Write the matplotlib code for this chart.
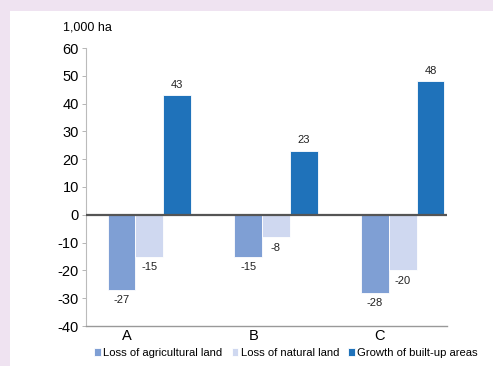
import matplotlib.pyplot as plt
import numpy as np

plt.rcParams['font.family'] = ['Liberation Sans', 'DejaVu Sans']

regioes = ['A', 'B', 'C']
series = ['Loss of agricultural land', 'Loss of natural land', 'Growth of built-up areas']
agricola = [-27, -15, -28]
natural = [-15, -8, -20]
construida = [43, 23, 48]
cores = ['#7F9FD4', '#CFD8F0', '#1F72BA']

fig = plt.figure(figsize=(4.93, 3.66), dpi=100, facecolor='#EFE3F1')
# painel branco atras de tudo
fig.patches.append(plt.Rectangle((10 / 493, 0), 1, 1 - 11 / 366, transform=fig.transFigure,
                                 facecolor='white', edgecolor='none', zorder=-10))
ax = fig.add_axes([86 / 493, 1 - 326 / 366, 361 / 493, 278 / 366])
ax.set_facecolor('white')

x = np.arange(len(regioes))
w = 0.22
for k, (vals, cor, nome) in enumerate(zip([agricola, natural, construida], cores, series)):
    pos = x + (k - 1) * w
    ax.bar(pos, vals, w, color=cor, edgecolor='white', linewidth=0.6, label=nome, zorder=2)
    for p, v in zip(pos, vals):
        if v >= 0:
            ax.annotate(str(v), (p, v), xytext=(0, 4), textcoords='offset points',
                        ha='center', va='bottom', fontsize=8, color='#222222')
        else:
            ax.annotate(str(v), (p, v), xytext=(0, -4), textcoords='offset points',
                        ha='center', va='top', fontsize=8, color='#222222')

ax.axhline(0, color='#555555', linewidth=1.6, zorder=3)
ax.set_xlim(-0.5, 2.35)
ax.set_ylim(-40, 60)
ax.set_yticks(range(-40, 61, 10))
ax.set_yticklabels([str(t) for t in range(-40, 61, 10)], fontsize=10.5)
ax.set_xticks(x - 0.18)
ax.set_xticklabels(regioes, fontsize=10.5)
ax.tick_params(axis='x', length=0, pad=2)
ax.tick_params(axis='y', length=3, width=0.6, color='#AAAAAA', pad=2)

for lado in ['top', 'right']:
    ax.spines[lado].set_visible(False)
ax.spines['left'].set_color('#BBBBBB')
ax.spines['bottom'].set_color('#999999')
ax.spines['bottom'].set_linewidth(1.0)

fig.text(63 / 493, 1 - 27 / 366, '1,000 ha', fontsize=9, va='center', ha='left')

fig.legend(loc='center', bbox_to_anchor=(0.58, 1 - 353 / 366), ncol=3, frameon=False,
           fontsize=8.1, handlelength=0.6, handleheight=0.6, handletextpad=0.2,
           columnspacing=0.8)

plt.savefig('out.png', dpi=100, facecolor=fig.get_facecolor())
